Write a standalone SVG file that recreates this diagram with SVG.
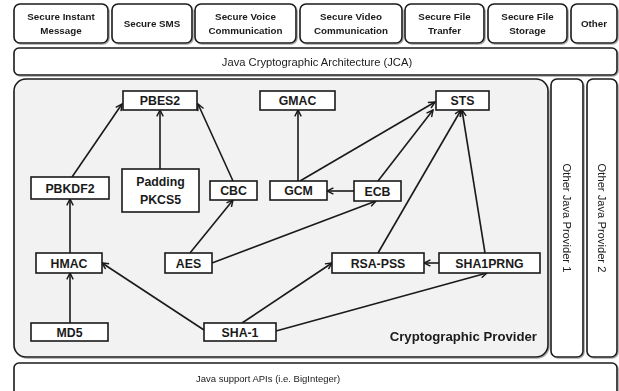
<svg xmlns="http://www.w3.org/2000/svg" width="619" height="391" viewBox="0 0 619 391">
  <style>
    .frame { fill: #ffffff; stroke: #1a1a1a; stroke-width: 1.6; }
    .panel { fill: #f2f2f2; stroke: #1a1a1a; stroke-width: 1.6; }
    .node rect { fill: #ffffff; stroke: #1a1a1a; stroke-width: 1.6; }
    .node text { font-family: "Liberation Sans", Arial, sans-serif; font-weight: bold; font-size: 12.3px; fill: #1a1a1a; text-anchor: middle; }
    .app { font-family: "Liberation Sans", Arial, sans-serif; font-weight: bold; font-size: 9.8px; fill: #1a1a1a; text-anchor: middle; }
    .bar { font-family: "Liberation Sans", Arial, sans-serif; font-size: 9.5px; fill: #1a1a1a; text-anchor: middle; }
    .bar-lg { font-family: "Liberation Sans", Arial, sans-serif; font-size: 11.2px; fill: #1a1a1a; text-anchor: middle; }
    .title { font-family: "Liberation Sans", Arial, sans-serif; font-weight: bold; font-size: 13.2px; fill: #1a1a1a; text-anchor: end; }
    .edges line { stroke: #1a1a1a; stroke-width: 1.6; marker-end: url(#arrow); }
  </style>
  <defs>
    <marker id="arrow" viewBox="0 0 10 10" refX="9" refY="5" markerWidth="8" markerHeight="8" markerUnits="userSpaceOnUse" orient="auto">
      <path d="M1,1 L9,5 L1,9" fill="none" stroke="#1a1a1a" stroke-width="1.8"/>
    </marker>
    <filter id="shadow" x="-5%" y="-5%" width="110%" height="110%">
      <feDropShadow dx="1" dy="1" stdDeviation="0.6" flood-color="#808080" flood-opacity="0.7"/>
    </filter>
  </defs>

  <!-- application layer -->
  <g id="apps" filter="url(#shadow)">
    <g id="app-im">
      <rect class="frame" x="14" y="4" width="94" height="39" rx="6"/>
      <text class="app" x="61" y="20">Secure Instant</text>
      <text class="app" x="61" y="34">Message</text>
    </g>
    <g id="app-sms">
      <rect class="frame" x="112" y="4" width="80" height="39" rx="6"/>
      <text class="app" x="152" y="27">Secure SMS</text>
    </g>
    <g id="app-voice">
      <rect class="frame" x="195" y="4" width="101" height="39" rx="6"/>
      <text class="app" x="245.5" y="20">Secure Voice</text>
      <text class="app" x="245.5" y="34">Communication</text>
    </g>
    <g id="app-video">
      <rect class="frame" x="300" y="4" width="102" height="39" rx="6"/>
      <text class="app" x="351" y="20">Secure Video</text>
      <text class="app" x="351" y="34">Communication</text>
    </g>
    <g id="app-transfer">
      <rect class="frame" x="405" y="4" width="79" height="39" rx="6"/>
      <text class="app" x="444.5" y="20">Secure File</text>
      <text class="app" x="444.5" y="34">Tranfer</text>
    </g>
    <g id="app-storage">
      <rect class="frame" x="488" y="4" width="79" height="39" rx="6"/>
      <text class="app" x="527.5" y="20">Secure File</text>
      <text class="app" x="527.5" y="34">Storage</text>
    </g>
    <g id="app-other">
      <rect class="frame" x="571" y="4" width="46" height="39" rx="6"/>
      <text class="app" x="594" y="27">Other</text>
    </g>
  </g>

  <g id="jca" filter="url(#shadow)">
    <rect class="frame" x="14" y="48" width="603" height="27" rx="5"/>
    <text class="bar-lg" x="317" y="65.5">Java Cryptographic Architecture (JCA)</text>
  </g>

  <g id="provider" filter="url(#shadow)">
    <rect class="panel" x="14" y="79" width="534" height="278" rx="12"/>
    <text class="title" x="537" y="341">Cryptographic Provider</text>
  </g>

  <g id="provider-1" filter="url(#shadow)">
    <rect class="frame" x="551" y="79" width="32" height="278" rx="6"/>
    <text class="bar-lg" transform="translate(567,218) rotate(90)" y="4">Other Java Provider 1</text>
  </g>
  <g id="provider-2" filter="url(#shadow)">
    <rect class="frame" x="587" y="79" width="30" height="278" rx="6"/>
    <text class="bar-lg" transform="translate(602,218) rotate(90)" y="4">Other Java Provider 2</text>
  </g>

  <g id="support" filter="url(#shadow)">
    <rect class="frame" x="14" y="363" width="603" height="34" rx="5"/>
    <text class="bar" x="268" y="382">Java support APIs (i.e. BigInteger)</text>
  </g>

  <!-- connectors -->
  <g class="edges">
    <line x1="70" y1="253" x2="70" y2="199"/>
    <line x1="70" y1="323" x2="70" y2="273"/>
    <line x1="72" y1="177" x2="122" y2="104"/>
    <line x1="160" y1="169" x2="160" y2="110"/>
    <line x1="233" y1="181" x2="198" y2="104"/>
    <line x1="298" y1="181" x2="298" y2="110"/>
    <line x1="300" y1="181" x2="435" y2="102"/>
    <line x1="378" y1="181" x2="433" y2="110"/>
    <line x1="354" y1="191" x2="327" y2="191"/>
    <line x1="190" y1="253" x2="233" y2="200"/>
    <line x1="212" y1="263" x2="376" y2="201"/>
    <line x1="378" y1="253" x2="461" y2="110"/>
    <line x1="485" y1="253" x2="462" y2="110"/>
    <line x1="439" y1="263" x2="424" y2="263"/>
    <line x1="204" y1="330" x2="102" y2="263"/>
    <line x1="242" y1="323" x2="332" y2="263"/>
    <line x1="276" y1="331" x2="487" y2="273"/>
  </g>

  <!-- algorithm nodes -->
  <g id="pbes2" class="node"><rect x="123" y="91" width="74" height="19"/><text x="160" y="105">PBES2</text></g>
  <g id="gmac" class="node"><rect x="260" y="91" width="75" height="19"/><text x="297.5" y="105">GMAC</text></g>
  <g id="sts" class="node"><rect x="436" y="91" width="53" height="19"/><text x="462.5" y="105">STS</text></g>
  <g id="pbkdf2" class="node"><rect x="31" y="177" width="78" height="22"/><text x="70" y="192.5">PBKDF2</text></g>
  <g id="padding" class="node"><rect x="122" y="169" width="77" height="43"/><text x="160.5" y="186">Padding</text><text x="160.5" y="204">PKCS5</text></g>
  <g id="cbc" class="node"><rect x="210" y="181" width="47" height="19"/><text x="233.5" y="195">CBC</text></g>
  <g id="gcm" class="node"><rect x="270" y="181" width="57" height="19"/><text x="298.5" y="195">GCM</text></g>
  <g id="ecb" class="node"><rect x="354" y="181" width="47" height="20"/><text x="377.5" y="195.5">ECB</text></g>
  <g id="hmac" class="node"><rect x="36" y="253" width="66" height="20"/><text x="69" y="267.5">HMAC</text></g>
  <g id="aes" class="node"><rect x="165" y="253" width="47" height="20"/><text x="188.5" y="267.5">AES</text></g>
  <g id="rsa-pss" class="node"><rect x="332" y="253" width="92" height="20"/><text x="378" y="267.5">RSA-PSS</text></g>
  <g id="sha1prng" class="node"><rect x="439" y="253" width="101" height="20"/><text x="489.5" y="267.5">SHA1PRNG</text></g>
  <g id="md5" class="node"><rect x="31" y="323" width="77" height="18"/><text x="69.5" y="336.5">MD5</text></g>
  <g id="sha-1" class="node"><rect x="204" y="323" width="72" height="18"/><text x="240" y="336.5">SHA-1</text></g>
</svg>
